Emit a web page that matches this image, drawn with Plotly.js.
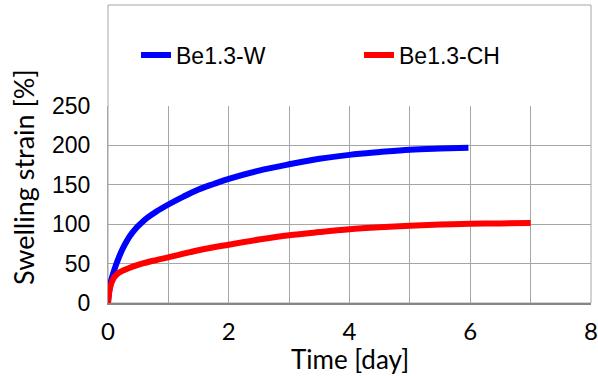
<!DOCTYPE html>
<html><head><meta charset="utf-8">
<script src="https://cdn.plot.ly/plotly-3.0.1.min.js"></script>
<style>html,body{margin:0;padding:0;background:#fff;}#chart{width:598px;height:376px;}</style>
</head><body><div id="chart"></div>
<script>
const seriesNames = ['Be1.3-W', 'Be1.3-CH'];
const timeW = [0, 0.02, 0.05, 0.1, 0.15, 0.25, 0.4, 0.6, 0.8, 1.0, 1.25, 1.5, 1.75, 2.0, 2.5, 3.0, 3.5, 4.0, 4.5, 5.0, 5.5, 5.97];
const strainW = [0, 15, 28, 41, 52, 70, 89, 105, 116, 125, 135, 144, 151, 157.5, 168, 176, 183, 188, 191.5, 194.5, 196, 197];
const timeCH = [0, 0.01, 0.036, 0.09, 0.17, 0.26, 0.42, 0.59, 0.8, 1.0, 1.5, 2.0, 2.5, 3.0, 3.5, 4.0, 4.5, 5.0, 5.5, 6.0, 6.5, 7.0];
const strainCH = [0, 8, 20, 31, 38, 41.5, 46.5, 50.5, 54.5, 58, 67, 74, 80.5, 86, 90, 93.5, 96, 98, 99.5, 100.5, 101, 101.5];
const xTicks = [0, 2, 4, 6, 8];
const yTicks = [0, 50, 100, 150, 200, 250];
const xTitle = 'Time [day]';
const yTitle = 'Swelling strain [%]';

const W = 598, H = 376;
const m = {l: 108, r: 7, t: 106, b: 73};
const ph = H - m.t - m.b, pw = W - m.l - m.r;
const grid = '#a6a6a6';

const traces = [
  {x: timeW, y: strainW, name: seriesNames[0], mode: 'lines', line: {color: '#0000ff', width: 6, shape: 'spline', smoothing: 1}},
  {x: timeCH, y: strainCH, name: seriesNames[1], mode: 'lines', line: {color: '#ff0000', width: 6, shape: 'spline', smoothing: 1}}
];

const layout = {
  width: W, height: H, margin: m,
  paper_bgcolor: '#fff', plot_bgcolor: '#fff',
  showlegend: true,
  legend: {orientation: 'h', x: (136 - m.l) / pw, xanchor: 'left', y: (H - m.b - 55) / ph, yanchor: 'middle',
           font: {family: 'Liberation Sans, Arial', size: 23, color: '#000'}, entrywidth: 178, entrywidthmode: 'pixels',
           bgcolor: 'rgba(0,0,0,0)', tracegroupgap: 0},
  xaxis: {range: [0, 8], tickvals: xTicks, ticktext: xTicks.map(String), showgrid: true, gridcolor: grid, gridwidth: 1,
          minor: {dtick: 1, showgrid: true, gridcolor: grid, gridwidth: 1},
          zeroline: false, showline: true, linecolor: '#868686', linewidth: 2, mirror: false,
          ticks: '', ticklabelstandoff: 6,
          tickfont: {family: 'Lato, Liberation Sans', size: 24, color: '#000'}},
  yaxis: {range: [0, 250], tickvals: yTicks, showgrid: true, gridcolor: grid, gridwidth: 1,
          zeroline: false, showline: true, linecolor: grid, linewidth: 1,
          ticks: '', ticklabelstandoff: 12,
          tickfont: {family: 'Liberation Sans, Arial', size: 23, color: '#000'}},
  shapes: [
    {type: 'rect', xref: 'paper', yref: 'paper', x0: 0, x1: 1, y0: 0, y1: 1 + (m.t - 5) / ph,
     line: {color: grid, width: 1}, fillcolor: 'rgba(0,0,0,0)', layer: 'below'}
  ],
  annotations: [
    {text: yTitle, textangle: -90, xref: 'paper', yref: 'paper', x: (23 - m.l) / pw, y: (H - m.b - 177) / ph,
     xanchor: 'center', yanchor: 'middle', showarrow: false, font: {family: 'Lato, Liberation Sans', size: 27, color: '#000'}},
    {text: xTitle, xref: 'paper', yref: 'paper', x: 0.5, y: (H - m.b - 359) / ph,
     xanchor: 'center', yanchor: 'middle', showarrow: false, font: {family: 'Lato, Liberation Sans', size: 26, color: '#000'}}
  ]
};

Plotly.newPlot('chart', traces, layout, {displayModeBar: false, staticPlot: true});
</script></body></html>
